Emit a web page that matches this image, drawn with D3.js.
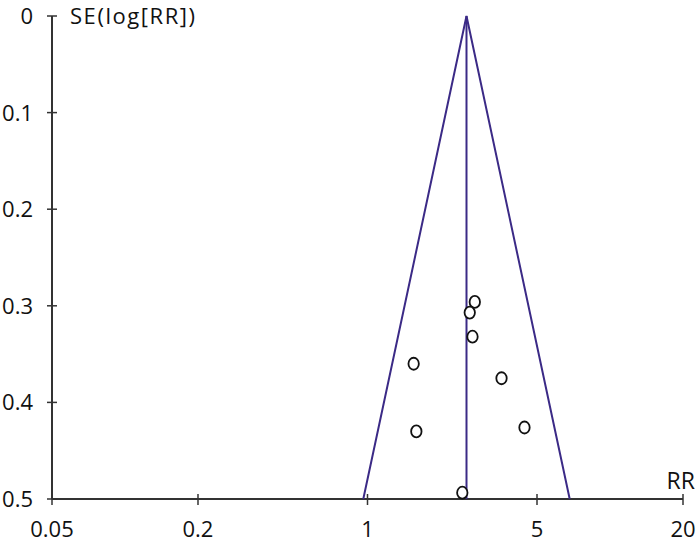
<!DOCTYPE html>
<html><head><meta charset="utf-8">
<script src="https://cdn.jsdelivr.net/npm/d3@7"></script>
<style>body{margin:0;background:#fff}svg{display:block}text{font-family:"Open Sans",sans-serif;fill:#111}</style>
</head><body><svg id="c" width="700" height="544"></svg>
<script>
const studyRR = [2.77, 2.64, 2.71, 1.55, 3.57, 1.59, 4.44, 2.46];
const studySE = [0.296, 0.307, 0.332, 0.360, 0.375, 0.430, 0.426, 0.4935];
const pooledRR = 2.56;
const xTicks = [0.05, 0.2, 1, 5, 20];
const yTicks = [0, 0.1, 0.2, 0.3, 0.4, 0.5];
const xTitle = "RR";
const yTitle = "SE(log[RR])";

const svg = d3.select("#c");
const x = d3.scaleLog().domain([0.05, 20]).range([52, 683]);
const y = d3.scaleLinear().domain([0, 0.5]).range([16, 499]);
const axisColor = "#333";
const funnelColor = "#3b2a86";

svg.append("line").attr("x1", x(0.05)).attr("x2", x(20)).attr("y1", y(0.5)).attr("y2", y(0.5))
  .attr("stroke", axisColor).attr("stroke-width", 2);
svg.append("line").attr("x1", x(0.05)).attr("x2", x(0.05)).attr("y1", y(0)).attr("y2", y(0.5))
  .attr("stroke", axisColor).attr("stroke-width", 2);
xTicks.forEach(t => {
  svg.append("line").attr("x1", x(t)).attr("x2", x(t)).attr("y1", y(0.5) - 5).attr("y2", y(0.5) + 6)
    .attr("stroke", axisColor).attr("stroke-width", 1.5);
  svg.append("text").attr("x", x(t)).attr("y", 537).attr("text-anchor", "middle")
    .attr("font-size", 22).text(t);
});
yTicks.forEach(t => {
  svg.append("line").attr("x1", x(0.05) - 5).attr("x2", x(0.05) + 5).attr("y1", y(t)).attr("y2", y(t))
    .attr("stroke", axisColor).attr("stroke-width", 1.5);
  svg.append("text").attr("x", 33).attr("y", y(t) + 8).attr("text-anchor", "end")
    .attr("font-size", 22).text(t);
});
svg.append("text").attr("x", 695).attr("y", 489).attr("text-anchor", "end").attr("font-size", 23).text(xTitle);
svg.append("text").attr("x", 70).attr("y", 24).attr("font-size", 22).attr("textLength", 125).text(yTitle);

const lp = Math.log(pooledRR);
const funnel = [[Math.exp(lp - 1.96 * 0.5), 0.5], [pooledRR, 0], [Math.exp(lp + 1.96 * 0.5), 0.5]];
svg.append("path").attr("d", d3.line().x(d => x(d[0])).y(d => y(d[1]))(funnel))
  .attr("fill", "none").attr("stroke", funnelColor).attr("stroke-width", 2);
svg.append("line").attr("x1", x(pooledRR)).attr("x2", x(pooledRR)).attr("y1", y(0)).attr("y2", y(0.5))
  .attr("stroke", funnelColor).attr("stroke-width", 2);

svg.selectAll("ellipse.pt").data(studyRR).enter().append("ellipse")
  .attr("cx", (d) => x(d)).attr("cy", (d, i) => y(studySE[i]))
  .attr("rx", 5.2).attr("ry", 6)
  .attr("fill", "#fff").attr("stroke", "#111").attr("stroke-width", 1.8);
</script></body></html>
